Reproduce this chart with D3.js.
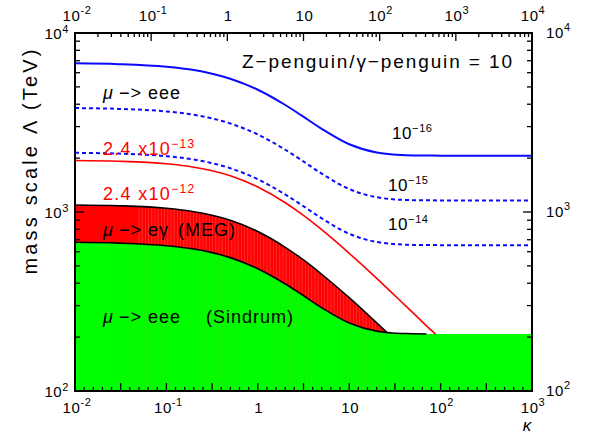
<!DOCTYPE html>
<html>
<head>
<meta charset="utf-8">
<script src="https://cdn.jsdelivr.net/npm/d3@7"></script>
<style>
body { margin: 0; background: #fff; }
text { font-family: "Liberation Sans", Arial, Helvetica, sans-serif; }
</style>
</head>
<body>
<svg id="chart" width="590" height="436"></svg>
<script>
// kappa values used for the mu -> eee curves
const kappa = [0.01, 0.03, 0.1, 0.2, 0.3, 0.5, 1, 2, 3, 5, 10, 20, 30, 50, 70, 100, 300, 1000];
// mu -> eee, BR = 1e-16, 1e-15, 1e-14 (TeV)
const eee16 = [6770, 6700, 6480, 6210, 5965, 5555, 4820, 3960, 3465, 2915, 2390, 2150, 2095, 2070, 2066, 2065, 2065, 2065];
const eee15 = [3807, 3768, 3644, 3492, 3355, 3124, 2711, 2227, 1949, 1639, 1344, 1209, 1178, 1164, 1162, 1161, 1161, 1161];
const eee14 = [2141, 2119, 2049, 1964, 1886, 1757, 1524, 1252, 1096, 922, 756, 680, 663, 655, 654, 653, 653, 653];
// Sindrum bound (green region top)
const sindrum = [677, 670, 648, 621, 597, 556, 482, 396, 347, 292, 240, 216, 211, 209, 208, 208, 208, 208];

// MEG 2.4e-12 (red region top)
const kappaMeg = [0.01, 0.03, 0.1, 0.2, 0.3, 0.5, 1, 2, 3, 5, 10, 20, 26];
const meg12 = [1095, 1084, 1049, 1004, 965, 898, 778, 635, 550, 449, 332, 240, 212];
// MEG 2.4e-13 (red line)
const kappaMeg13 = [0.01, 0.03, 0.1, 0.2, 0.3, 0.5, 1, 2, 3, 5, 10, 20, 30, 50, 70, 88];
const meg13 = [1940, 1921, 1859, 1780, 1710, 1592, 1379, 1126, 975, 796, 588, 426, 350, 273, 231, 208];

const bottomExps = [-2, -1, 0, 1, 2, 3];
const topExps = [-2, -1, 0, 1, 2, 3, 4];
const yExps = [2, 3, 4];

const svg = d3.select("#chart");
const L = 75, R = 532, T = 33, B = 391;

const x = d3.scaleLog().domain([0.01, 1000]).range([L, R]);
const xTop = d3.scaleLog().domain([0.01, 1e4]).range([L, R]);
const y = d3.scaleLog().domain([100, 1e4]).range([B, T]);

const pts = (ks, vs) => ks.map((k, i) => [k, vs[i]]);
const line = d3.line().x(d => x(d[0])).y(d => y(d[1])).curve(d3.curveMonotoneX);

// green region (Sindrum)
const green = d3.area().x(d => x(d[0])).y0(y(100)).y1(d => y(d[1])).curve(d3.curveMonotoneX);
svg.append("path").attr("d", green(pts(kappa, sindrum))).attr("fill", "#00ff00");
svg.append("clipPath").attr("id", "clipGreen")
    .append("path").attr("d", green(pts(kappa, sindrum)));
svg.append("g").attr("clip-path", "url(#clipGreen)")
    .selectAll("line")
    .data(d3.range(-1.6, 1.45, 0.045))
    .join("line")
    .attr("x1", d => x(Math.pow(10, d))).attr("x2", d => x(Math.pow(10, d)))
    .attr("y1", T).attr("y2", B)
    .attr("stroke", "#70a000").attr("stroke-width", 0.6).attr("opacity", 0.25);

// red region between MEG and Sindrum
const megPts = pts(kappaMeg, meg12);
const lowPts = pts(kappa, sindrum).filter(d => d[0] < 26).reverse();
const redD = line(megPts) + "L" + line(lowPts).slice(1) + "Z";
svg.append("path").attr("d", redD).attr("fill", "#ff0000");

// streaks like in the original raster fill
svg.append("clipPath").attr("id", "clipRed").append("path").attr("d", redD);
svg.append("g").attr("clip-path", "url(#clipRed)")
    .selectAll("line")
    .data(d3.range(-1.3, 1.45, 0.035))
    .join("line")
    .attr("x1", d => x(Math.pow(10, d))).attr("x2", d => x(Math.pow(10, d)))
    .attr("y1", T).attr("y2", B)
    .attr("stroke", "#ff8080").attr("stroke-width", 0.6).attr("opacity", 0.6);

// black outlines
svg.append("path").attr("d", line(megPts)).attr("fill", "none").attr("stroke", "#000").attr("stroke-width", 1.6);
svg.append("path").attr("d", line(pts(kappa, sindrum).filter(d => d[0] <= 70)))
    .attr("fill", "none").attr("stroke", "#000").attr("stroke-width", 1.6);

// red line 2.4e-13
svg.append("path").attr("d", line(pts(kappaMeg13, meg13)))
    .attr("fill", "none").attr("stroke", "#ff0000").attr("stroke-width", 1.6);

// blue mu -> eee curves
svg.append("path").attr("d", line(pts(kappa, eee16)))
    .attr("fill", "none").attr("stroke", "#0a0aff").attr("stroke-width", 2);
[eee15, eee14].forEach(s => {
    svg.append("path").attr("d", line(pts(kappa, s)))
        .attr("fill", "none").attr("stroke", "#0a0aff").attr("stroke-width", 2)
        .attr("stroke-dasharray", "4,3");
});

// ---- axes ----
const ax = svg.append("g").attr("stroke", "#000").attr("stroke-width", 1.3);

// bottom: tick every 0.1 decade, long every 0.5
d3.range(-20, 31).forEach(k => {
    const xx = x(Math.pow(10, k / 10));
    const len = k % 5 === 0 ? 8 : 4;
    ax.append("line").attr("x1", xx).attr("x2", xx).attr("y1", B).attr("y2", B - len);
});
// top: log minors
topExps.forEach(e => {
    for (let m = 1; m < 10; m++) {
        const v = m * Math.pow(10, e);
        if (v > 1e4) break;
        const xx = xTop(v);
        ax.append("line").attr("x1", xx).attr("x2", xx).attr("y1", T).attr("y2", T + (m === 1 ? 8 : 4));
    }
});
// left and right
yExps.forEach(e => {
    for (let m = 1; m < 10; m++) {
        const v = m * Math.pow(10, e);
        if (v > 1e4) break;
        const yy = y(v);
        const len = m === 1 ? 9 : 5;
        ax.append("line").attr("x1", L).attr("x2", L + len).attr("y1", yy).attr("y2", yy);
        ax.append("line").attr("x1", R).attr("x2", R - len).attr("y1", yy).attr("y2", yy);
    }
});
svg.append("rect").attr("x", L).attr("y", T).attr("width", R - L).attr("height", B - T)
    .attr("fill", "none").attr("stroke", "#000").attr("stroke-width", 2);

function powLabel(g, e, allowPlain, up) {
    if (allowPlain && e === 0) { g.append("tspan").text("1"); return; }
    if (allowPlain && e === 1) { g.append("tspan").text("10"); return; }
    g.append("tspan").text("10");
    g.append("tspan").attr("dy", -(up || 7)).attr("font-size", 11).text(e);
}

bottomExps.forEach(e => {
    const t = svg.append("text").attr("x", x(Math.pow(10, e)) + (e < 0 ? 2 : 1)).attr("y", 413)
        .attr("text-anchor", "middle").attr("font-size", 15).attr("letter-spacing", 0.6);
    powLabel(t, e, true);
});
topExps.forEach(e => {
    const t = svg.append("text").attr("x", xTop(Math.pow(10, e)) + (e < 0 ? 2 : 1)).attr("y", 21)
        .attr("text-anchor", "middle").attr("font-size", 15).attr("letter-spacing", 0.6);
    powLabel(t, e, true);
});
yExps.forEach(e => {
    const t = svg.append("text").attr("x", 69).attr("y", y(Math.pow(10, e)) + 6)
        .attr("text-anchor", "end").attr("font-size", 15).attr("letter-spacing", 0.6);
    powLabel(t, e, false, 6);
    const t2 = svg.append("text").attr("x", 546).attr("y", y(Math.pow(10, e)) + 5)
        .attr("font-size", 15).attr("letter-spacing", 0.6);
    powLabel(t2, e, false);
});

svg.append("text").attr("x", 527).attr("y", 431).attr("text-anchor", "middle")
    .attr("font-size", 17).attr("font-style", "italic").text("κ");

svg.append("text")
    .attr("transform", "translate(37,162) rotate(-90)")
    .attr("text-anchor", "middle").attr("font-size", 20)
    .attr("textLength", 225).attr("lengthAdjust", "spacing")
    .text("mass scale Λ (TeV)");

// ---- annotations ----
svg.append("text").attr("x", 242).attr("y", 68).attr("font-size", 19)
    .attr("textLength", 270).attr("lengthAdjust", "spacing")
    .text("Z−penguin/γ−penguin = 10");

function muLabel(yy, rest, extra, extraX) {
    const t = svg.append("text").attr("x", 103).attr("y", yy).attr("font-size", 18).attr("letter-spacing", 1);
    t.append("tspan").attr("font-style", "italic").text("μ");
    t.append("tspan").attr("dx", 5).text("−> " + rest);
    if (extra) svg.append("text").attr("x", extraX).attr("y", yy).attr("font-size", 18)
        .attr("letter-spacing", 1).text(extra);
}
muLabel(99, "eee");
muLabel(236, "eγ", "(MEG)", 178);
muLabel(323, "eee", "(Sindrum)", 206);

[[155, "−13"], [200, "−12"]].forEach(([yy, e]) => {
    const t = svg.append("text").attr("x", 103).attr("y", yy).attr("font-size", 18)
        .attr("letter-spacing", 1.3).attr("fill", "#ff0000");
    t.append("tspan").text("2.4 x10");
    t.append("tspan").attr("dy", -7).attr("font-size", 12).text(e);
});

[[392, 139, "−16"], [388, 191, "−15"], [388, 230, "−14"]].forEach(([xx, yy, e]) => {
    const t = svg.append("text").attr("x", xx).attr("y", yy).attr("font-size", 17).attr("letter-spacing", 0.6);
    t.append("tspan").text("10");
    t.append("tspan").attr("dy", -7).attr("font-size", 11).text(e);
});
</script>
</body>
</html>
